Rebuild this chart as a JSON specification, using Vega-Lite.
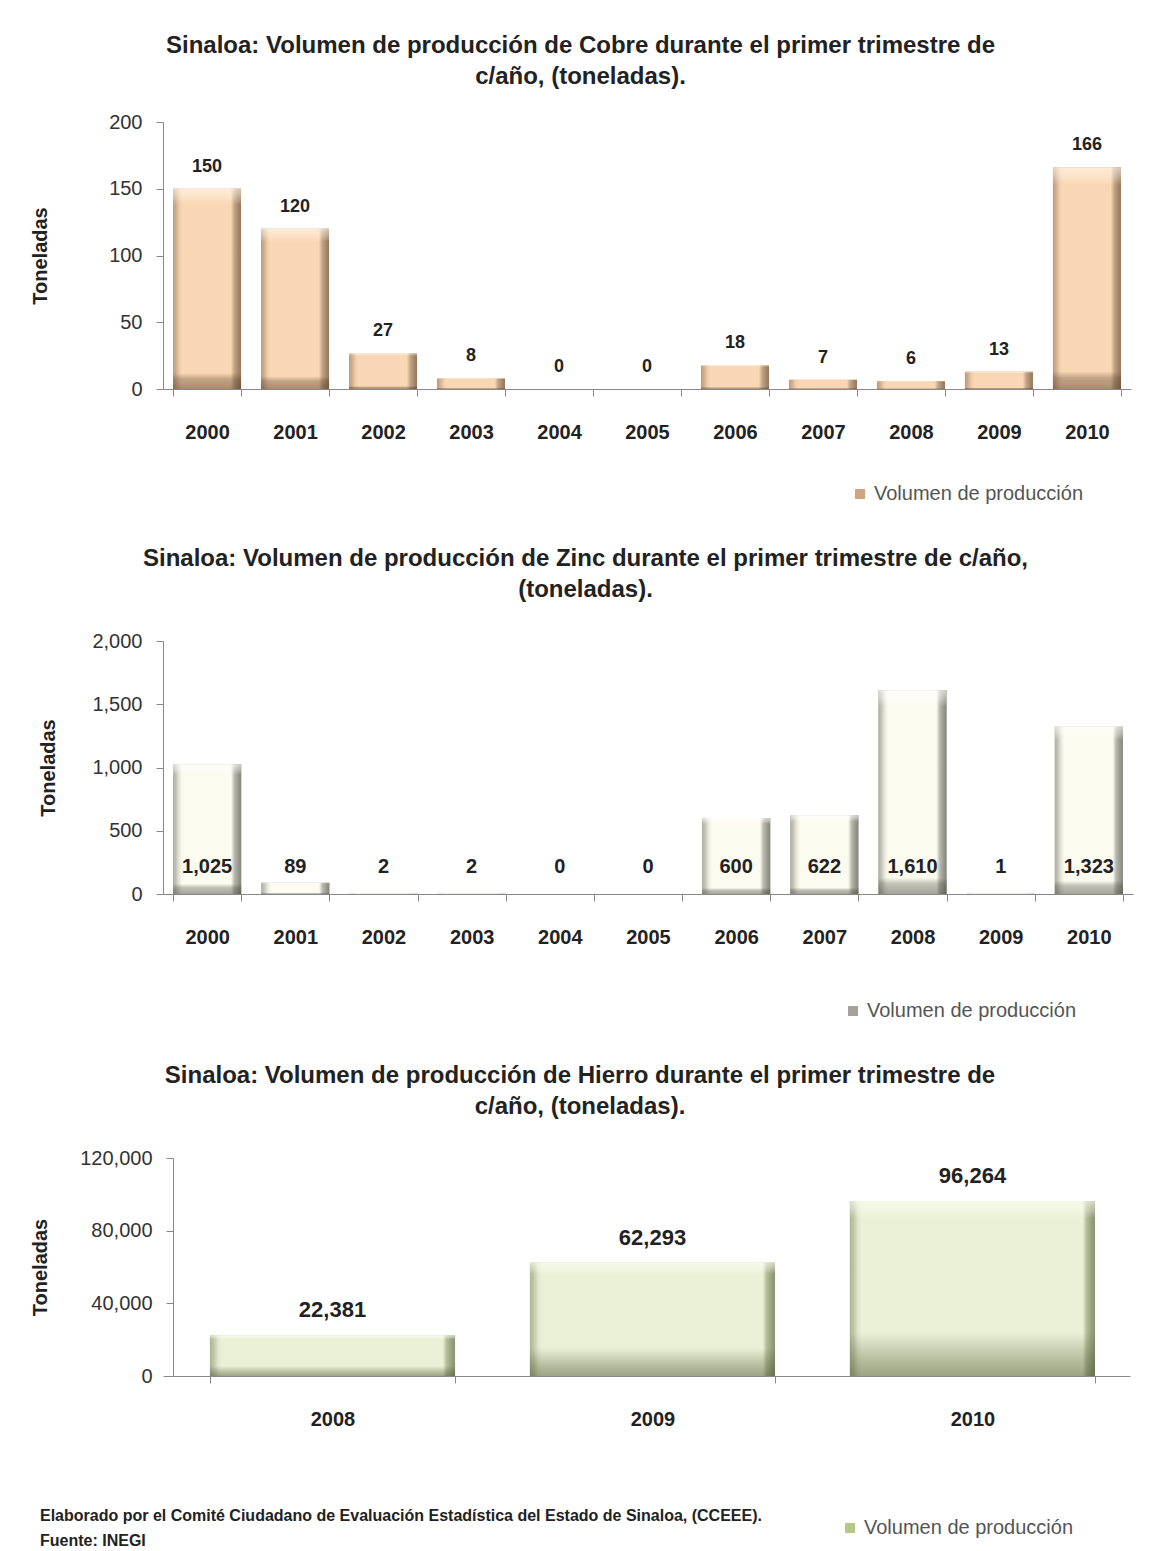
{
 "$schema": "https://vega.github.io/schema/vega-lite/v6.json",
 "background": "white",
 "padding": {"left": 30, "top": 34, "right": 10, "bottom": 10},
 "align": "none",
 "spacing": 43,
 "resolve": {"scale": {"color": "independent", "x": "independent", "y": "independent"}, "legend": {"color": "independent"}},
 "title": {"text": ["Elaborado por el Comité Ciudadano de Evaluación Estadística del Estado de Sinaloa, (CCEEE).", "Fuente: INEGI"], "orient": "bottom", "anchor": "start", "frame": "bounds", "fontSize": 16, "fontWeight": "bold", "lineHeight": 25, "offset": -30, "dx": 10, "color": "#222"},
 "config": {
  "font": "Liberation Sans",
  "view": {"stroke": null},
  "title": {"fontSize": 24, "fontWeight": "bold", "color": "#222", "lineHeight": 31, "anchor": "middle", "frame": "bounds", "offset": 29},
  "axisX": {"title": null, "labelAngle": 0, "labelFontWeight": "bold", "labelFontSize": 20, "labelColor": "#222", "labelPadding": 26, "tickSize": 7, "tickBand": "extent", "domainColor": "#888", "tickColor": "#888"},
  "axisY": {"titleFontSize": 20, "titleFontWeight": "bold", "titleColor": "#222", "titleBaseline": "middle", "labelFontSize": 20, "labelColor": "#333", "labelPadding": 14, "tickSize": 7, "grid": false, "domainColor": "#888", "tickColor": "#888", "format": ",d"},
  "legend": {"orient": "none", "title": null, "labelFontSize": 20, "labelColor": "#555", "symbolType": "square", "symbolSize": 100, "symbolStrokeWidth": 0, "labelOffset": 4, "labelLimit": 400}
 },
 "vconcat": [
  {
   "title": {"text": ["Sinaloa: Volumen de producción de Cobre durante el primer trimestre de", "c/año, (toneladas)."], "offset": 23},
   "width": 968, "height": 267,
   "data": {"values": [
    {"anio": "2000", "toneladas": 150, "serie": "Volumen de producción"},
    {"anio": "2001", "toneladas": 120, "serie": "Volumen de producción"},
    {"anio": "2002", "toneladas": 27, "serie": "Volumen de producción"},
    {"anio": "2003", "toneladas": 8, "serie": "Volumen de producción"},
    {"anio": "2004", "toneladas": 0, "serie": "Volumen de producción"},
    {"anio": "2005", "toneladas": 0, "serie": "Volumen de producción"},
    {"anio": "2006", "toneladas": 18, "serie": "Volumen de producción"},
    {"anio": "2007", "toneladas": 7, "serie": "Volumen de producción"},
    {"anio": "2008", "toneladas": 6, "serie": "Volumen de producción"},
    {"anio": "2009", "toneladas": 13, "serie": "Volumen de producción"},
    {"anio": "2010", "toneladas": 166, "serie": "Volumen de producción"}
   ]},
   "encoding": {"x": {"field": "anio", "type": "nominal", "scale": {"paddingInner": 0.227, "paddingOuter": 0.114}}},
   "layer": [
    {"mark": {"type": "bar"},
     "encoding": {
      "y": {"field": "toneladas", "type": "quantitative", "scale": {"domain": [0, 200]}, "axis": {"title": "Toneladas", "titleX": -123, "values": [0, 50, 100, 150, 200], "format": ",d"}},
      "color": {"field": "serie", "type": "nominal", "scale": {"range": ["#cfa47f"]}, "legend": {"legendX": 687, "legendY": 362}}
     }},
    {"mark": {"type": "bar", "fill": "#fad7b4"}, "encoding": {"y": {"field": "toneladas", "type": "quantitative"}}},
    {"mark": {"type": "bar", "fill": {"gradient": "linear", "x1": 0, "y1": 0, "x2": 1, "y2": 0, "stops": [
      {"offset": 0, "color": "rgba(70,45,25,0.35)"}, {"offset": 0.04, "color": "rgba(70,45,25,0.25)"}, {"offset": 0.1, "color": "rgba(70,45,25,0.05)"}, {"offset": 0.14, "color": "rgba(70,45,25,0)"},
      {"offset": 0.85, "color": "rgba(70,45,25,0)"}, {"offset": 0.9, "color": "rgba(70,45,25,0.3)"}, {"offset": 0.97, "color": "rgba(70,45,25,0.5)"}, {"offset": 1, "color": "rgba(70,45,25,0.55)"}]}},
     "encoding": {"y": {"field": "toneladas", "type": "quantitative"}}},
    {"mark": {"type": "bar", "fill": {"gradient": "linear", "x1": 0, "y1": 0, "x2": 0, "y2": 1, "stops": [
      {"offset": 0, "color": "rgba(255,250,240,0.6)"}, {"offset": 0.04, "color": "rgba(255,250,240,0.35)"}, {"offset": 0.08, "color": "rgba(255,250,240,0)"},
      {"offset": 0.92, "color": "rgba(70,45,25,0)"}, {"offset": 0.95, "color": "rgba(70,45,25,0.3)"}, {"offset": 1, "color": "rgba(70,45,25,0.45)"}]}},
     "encoding": {"y": {"field": "toneladas", "type": "quantitative"}}},
    {"mark": {"type": "text", "baseline": "middle", "dy": -22, "fontSize": 18, "fontWeight": "bold", "color": "#222"},
     "encoding": {"y": {"field": "toneladas", "type": "quantitative"}, "text": {"field": "toneladas", "type": "quantitative", "format": ","}}}
   ]
  },
  {
   "title": {"text": ["Sinaloa: Volumen de producción de Zinc durante el primer trimestre de c/año,", "(toneladas)."]},
   "width": 970, "height": 253,
   "data": {"values": [
    {"anio": "2000", "toneladas": 1025, "serie": "Volumen de producción"},
    {"anio": "2001", "toneladas": 89, "serie": "Volumen de producción"},
    {"anio": "2002", "toneladas": 2, "serie": "Volumen de producción"},
    {"anio": "2003", "toneladas": 2, "serie": "Volumen de producción"},
    {"anio": "2004", "toneladas": 0, "serie": "Volumen de producción"},
    {"anio": "2005", "toneladas": 0, "serie": "Volumen de producción"},
    {"anio": "2006", "toneladas": 600, "serie": "Volumen de producción"},
    {"anio": "2007", "toneladas": 622, "serie": "Volumen de producción"},
    {"anio": "2008", "toneladas": 1610, "serie": "Volumen de producción"},
    {"anio": "2009", "toneladas": 1, "serie": "Volumen de producción"},
    {"anio": "2010", "toneladas": 1323, "serie": "Volumen de producción"}
   ]},
   "encoding": {"x": {"field": "anio", "type": "nominal", "scale": {"paddingInner": 0.227, "paddingOuter": 0.114}}},
   "layer": [
    {"mark": {"type": "bar"},
     "encoding": {
      "y": {"field": "toneladas", "type": "quantitative", "scale": {"domain": [0, 2000]}, "axis": {"title": "Toneladas", "titleX": -115, "values": [0, 500, 1000, 1500, 2000], "format": ",d"}},
      "color": {"field": "serie", "type": "nominal", "scale": {"range": ["#a3a39c"]}, "legend": {"legendX": 680, "legendY": 360}}
     }},
    {"mark": {"type": "bar", "fill": "#fcfbf0"}, "encoding": {"y": {"field": "toneladas", "type": "quantitative"}}},
    {"mark": {"type": "bar", "fill": {"gradient": "linear", "x1": 0, "y1": 0, "x2": 1, "y2": 0, "stops": [
      {"offset": 0, "color": "rgba(60,60,50,0.4)"}, {"offset": 0.04, "color": "rgba(60,60,50,0.3)"}, {"offset": 0.1, "color": "rgba(60,60,50,0.08)"}, {"offset": 0.14, "color": "rgba(60,60,50,0)"},
      {"offset": 0.85, "color": "rgba(60,60,50,0)"}, {"offset": 0.9, "color": "rgba(60,60,50,0.35)"}, {"offset": 0.97, "color": "rgba(60,60,50,0.55)"}, {"offset": 1, "color": "rgba(60,60,50,0.6)"}]}},
     "encoding": {"y": {"field": "toneladas", "type": "quantitative"}}},
    {"mark": {"type": "bar", "fill": {"gradient": "linear", "x1": 0, "y1": 0, "x2": 0, "y2": 1, "stops": [
      {"offset": 0, "color": "rgba(255,255,255,0.6)"}, {"offset": 0.04, "color": "rgba(255,255,255,0.35)"}, {"offset": 0.08, "color": "rgba(255,255,255,0)"},
      {"offset": 0.92, "color": "rgba(60,60,50,0)"}, {"offset": 0.95, "color": "rgba(60,60,50,0.3)"}, {"offset": 1, "color": "rgba(60,60,50,0.45)"}]}},
     "encoding": {"y": {"field": "toneladas", "type": "quantitative"}}},
    {"mark": {"type": "text", "baseline": "middle", "dy": -27, "fontSize": 20, "fontWeight": "bold", "color": "#222"},
     "encoding": {"y": {"datum": 0}, "text": {"field": "toneladas", "type": "quantitative", "format": ","}}}
   ]
  },
  {
   "title": {"text": ["Sinaloa: Volumen de producción de Hierro durante el primer trimestre de", "c/año, (toneladas)."]},
   "width": 967, "height": 218,
   "data": {"values": [
    {"anio": "2008", "toneladas": 22381, "serie": "Volumen de producción"},
    {"anio": "2009", "toneladas": 62293, "serie": "Volumen de producción"},
    {"anio": "2010", "toneladas": 96264, "serie": "Volumen de producción"}
   ]},
   "encoding": {"x": {"field": "anio", "type": "nominal", "scale": {"paddingInner": 0.234, "paddingOuter": 0.128, "align": 0.573}}},
   "layer": [
    {"mark": {"type": "bar"},
     "encoding": {
      "y": {"field": "toneladas", "type": "quantitative", "scale": {"domain": [0, 120000]}, "axis": {"title": "Toneladas", "titleX": -133, "offset": -10, "values": [0, 40000, 80000, 120000], "format": ",d"}},
      "color": {"field": "serie", "type": "nominal", "scale": {"range": ["#b3c98a"]}, "legend": {"legendX": 677, "legendY": 360}}
     }},
    {"mark": {"type": "bar", "fill": "#ebf1d7"}, "encoding": {"y": {"field": "toneladas", "type": "quantitative"}}},
    {"mark": {"type": "bar", "fill": {"gradient": "linear", "x1": 0, "y1": 0, "x2": 1, "y2": 0, "stops": [
      {"offset": 0, "color": "rgba(60,70,30,0.35)"}, {"offset": 0.015, "color": "rgba(60,70,30,0.25)"}, {"offset": 0.035, "color": "rgba(60,70,30,0.05)"}, {"offset": 0.05, "color": "rgba(60,70,30,0)"},
      {"offset": 0.95, "color": "rgba(60,70,30,0)"}, {"offset": 0.965, "color": "rgba(60,70,30,0.3)"}, {"offset": 0.99, "color": "rgba(60,70,30,0.5)"}, {"offset": 1, "color": "rgba(60,70,30,0.55)"}]}},
     "encoding": {"y": {"field": "toneladas", "type": "quantitative"}}},
    {"mark": {"type": "bar", "fill": {"gradient": "linear", "x1": 0, "y1": 0, "x2": 0, "y2": 1, "stops": [
      {"offset": 0, "color": "rgba(255,255,245,0.6)"}, {"offset": 0.05, "color": "rgba(255,255,245,0.35)"}, {"offset": 0.1, "color": "rgba(255,255,245,0)"},
      {"offset": 0.75, "color": "rgba(60,70,30,0)"}, {"offset": 0.88, "color": "rgba(60,70,30,0.25)"}, {"offset": 1, "color": "rgba(60,70,30,0.45)"}]}},
     "encoding": {"y": {"field": "toneladas", "type": "quantitative"}}},
    {"mark": {"type": "text", "baseline": "middle", "dy": -25, "fontSize": 22, "fontWeight": "bold", "color": "#222"},
     "encoding": {"y": {"field": "toneladas", "type": "quantitative"}, "text": {"field": "toneladas", "type": "quantitative", "format": ","}}}
   ]
  }
 ]
}
